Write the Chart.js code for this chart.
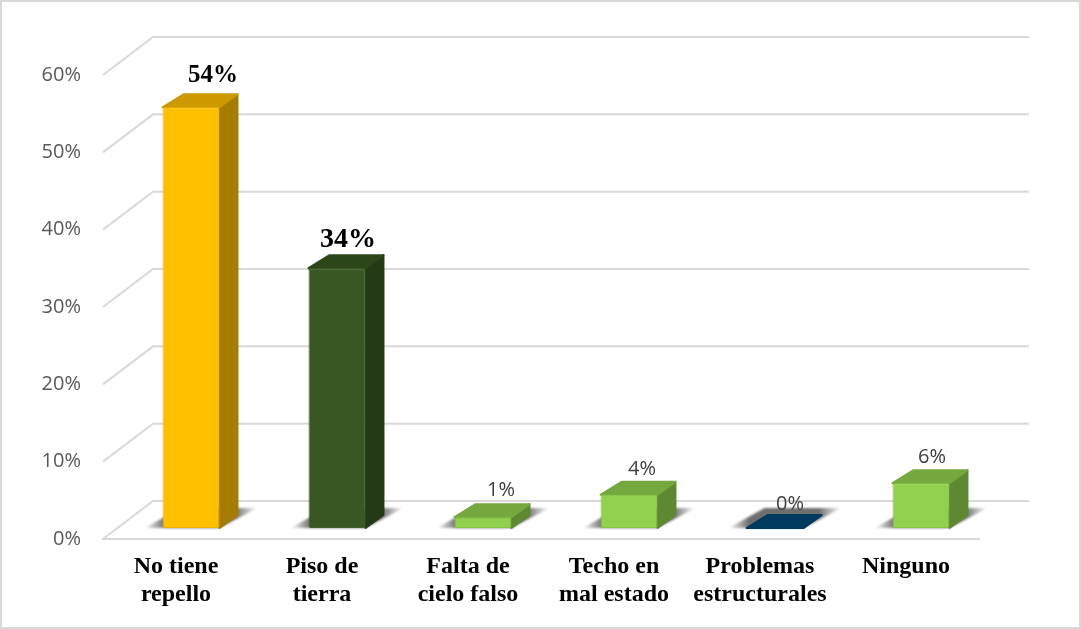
<!DOCTYPE html>
<html>
<head>
<meta charset="utf-8">
<style>
    html, body { margin: 0; padding: 0; background: #fff; }
    #wrap { width: 1081px; height: 629px; }
</style>
<script src="https://cdn.jsdelivr.net/npm/chart.js@4"></script>
</head>
<body>
<div id="wrap"><canvas id="viviendaChart" width="1081" height="629"></canvas></div>
<script>
const categories = [
    ["No tiene", "repello"],
    ["Piso de", "tierra"],
    ["Falta de", "cielo falso"],
    ["Techo en", "mal estado"],
    ["Problemas", "estructurales"],
    ["Ninguno"]
];
const values = [54.4, 33.6, 1.4, 4.3, 0, 5.8];

const frontColors = ["#FFC000", "#385723", "#92D050", "#92D050", "#003A5F", "#92D050"];
const edgeColors = ["#EDB200", "#3F6228", "#84C63F", "#84C63F", "#003A5F", "#84C63F"];
const sideColors = ["#A67C00", "#243A16", "#5F8833", "#5F8833", "#003A5F", "#5F8833"];
const topColors = ["#CC9A00", "#2D4619", "#75A93F", "#75A93F", "#003A5F", "#75A93F"];

const labelFonts = [
    "bold 25px 'Liberation Serif'",
    "bold 28px 'Liberation Serif'",
    "20px 'Open Sans'",
    "20px 'Open Sans'",
    "20px 'Open Sans'",
    "20px 'Open Sans'"
];
const labelColors = ["#000", "#000", "#404040", "#404040", "#404040", "#404040"];
const labelNudge = [[22, -19], [11, -15], [18, -14], [13, -12], [15, -11], [11, -13]];

// the fake 3d: how far the wall sits back, and where bars sit on the floor
const wallDx = 50, wallDy = -38;
const barDx = 15, barDy = -11;
const depthLeft = 21, depthRight = 18, depthY = -13;

function poly(ctx, pts, fill, rounded) {
    ctx.beginPath();
    pts.forEach((p, i) => i ? ctx.lineTo(p[0], p[1]) : ctx.moveTo(p[0], p[1]));
    ctx.closePath();
    ctx.fillStyle = fill;
    ctx.fill();
    if (rounded) {
        ctx.strokeStyle = fill;
        ctx.lineWidth = 2;
        ctx.lineJoin = "round";
        ctx.stroke();
    }
}

const fake3d = {
    id: "fake3d",
    beforeDraw(chart) {
        const ctx = chart.ctx;
        ctx.save();
        ctx.strokeStyle = "#d9d9d9";
        ctx.lineWidth = 2;
        ctx.strokeRect(1, 1, chart.width - 2, chart.height - 2);
        ctx.restore();
    },
    beforeDatasetsDraw(chart) {
        const ctx = chart.ctx;
        const y = chart.scales.y;
        const area = chart.chartArea;

        // wall + side lines
        ctx.save();
        ctx.strokeStyle = "#d9d9d9";
        ctx.lineWidth = 2;
        y.ticks.forEach(t => {
            const py = y.getPixelForValue(t.value);
            ctx.beginPath();
            ctx.moveTo(area.left, py);
            ctx.lineTo(area.left + wallDx, py + wallDy);
            ctx.lineTo(area.right + wallDx, py + wallDy);
            ctx.stroke();
        });
        ctx.restore();

        const bars = chart.getDatasetMeta(0).data;

        // floor shadows
        ctx.save();
        ctx.filter = "blur(1px)";
        bars.forEach(b => {
            const x0 = b.x - b.width / 2 + barDx;
            const x1 = b.x + b.width / 2 + barDx;
            const base = b.base + barDy;
            const g = ctx.createLinearGradient(x0 - 18, 0, x1 + 38, 0);
            g.addColorStop(0, "rgba(110,110,110,0)");
            g.addColorStop(0.18, "rgba(110,110,110,1)");
            g.addColorStop(0.8, "rgba(110,110,110,1)");
            g.addColorStop(1, "rgba(110,110,110,0)");
            poly(ctx, [[x0 - 18, base], [x1, base], [x1 + 38, base - 20], [x0 + 18, base - 20]], g);
        });
        ctx.restore();

        // side and top of each bar
        ctx.save();
        bars.forEach((b, i) => {
            const x0 = b.x - b.width / 2 + barDx;
            const x1 = b.x + b.width / 2 + barDx;
            const top = b.y + barDy;
            const base = b.base + barDy;
            poly(ctx, [[x1, top], [x1 + depthRight, top + depthY], [x1 + depthRight, base + depthY], [x1, base]], sideColors[i], true);
            poly(ctx, [[x0, top], [x0 + depthLeft, top + depthY], [x1 + depthRight, top + depthY], [x1, top]], topColors[i], true);
        });
        ctx.restore();

        ctx.save();
        ctx.translate(barDx, barDy);
    },
    afterDatasetsDraw(chart) {
        const ctx = chart.ctx;
        ctx.restore();

        chart.getDatasetMeta(0).data.forEach((b, i) => {
            ctx.save();
            ctx.font = labelFonts[i];
            ctx.fillStyle = labelColors[i];
            ctx.textAlign = "center";
            ctx.textBaseline = "middle";
            ctx.fillText(Math.round(values[i]) + "%",
                b.x + barDx + labelNudge[i][0],
                b.y + barDy + depthY + labelNudge[i][1]);
            ctx.restore();
        });
    }
};

new Chart(document.getElementById("viviendaChart").getContext("2d"), {
    type: "bar",
    data: {
        labels: categories,
        datasets: [{
            data: values,
            backgroundColor: frontColors,
            borderColor: edgeColors,
            borderWidth: 1,
            borderRadius: 2,
            borderSkipped: false,
            categoryPercentage: 0.39,
            barPercentage: 1,
            clip: false
        }]
    },
    options: {
        responsive: false,
        animation: false,
        layout: { padding: { top: 75, right: 102, left: 0, bottom: 0 } },
        plugins: {
            legend: { display: false },
            tooltip: { enabled: false }
        },
        scales: {
            x: {
                afterFit(scale) { scale.height = 90; },
                grid: { display: false, drawTicks: false },
                border: { display: true, color: "#d9d9d9", width: 2 },
                ticks: {
                    color: "#000",
                    padding: 14,
                    maxRotation: 0,
                    autoSkip: false,
                    font: { family: "'Liberation Serif'", size: 24, weight: "bold", lineHeight: 1.17 }
                }
            },
            y: {
                min: 0,
                max: 60,
                afterFit(scale) { scale.width = 103; },
                grid: { display: false, drawTicks: false },
                border: { display: false },
                ticks: {
                    stepSize: 10,
                    color: "#595959",
                    padding: 22,
                    font: { family: "'Open Sans'", size: 20 },
                    callback: v => v + "%"
                }
            }
        }
    },
    plugins: [fake3d]
});
</script>
</body>
</html>
